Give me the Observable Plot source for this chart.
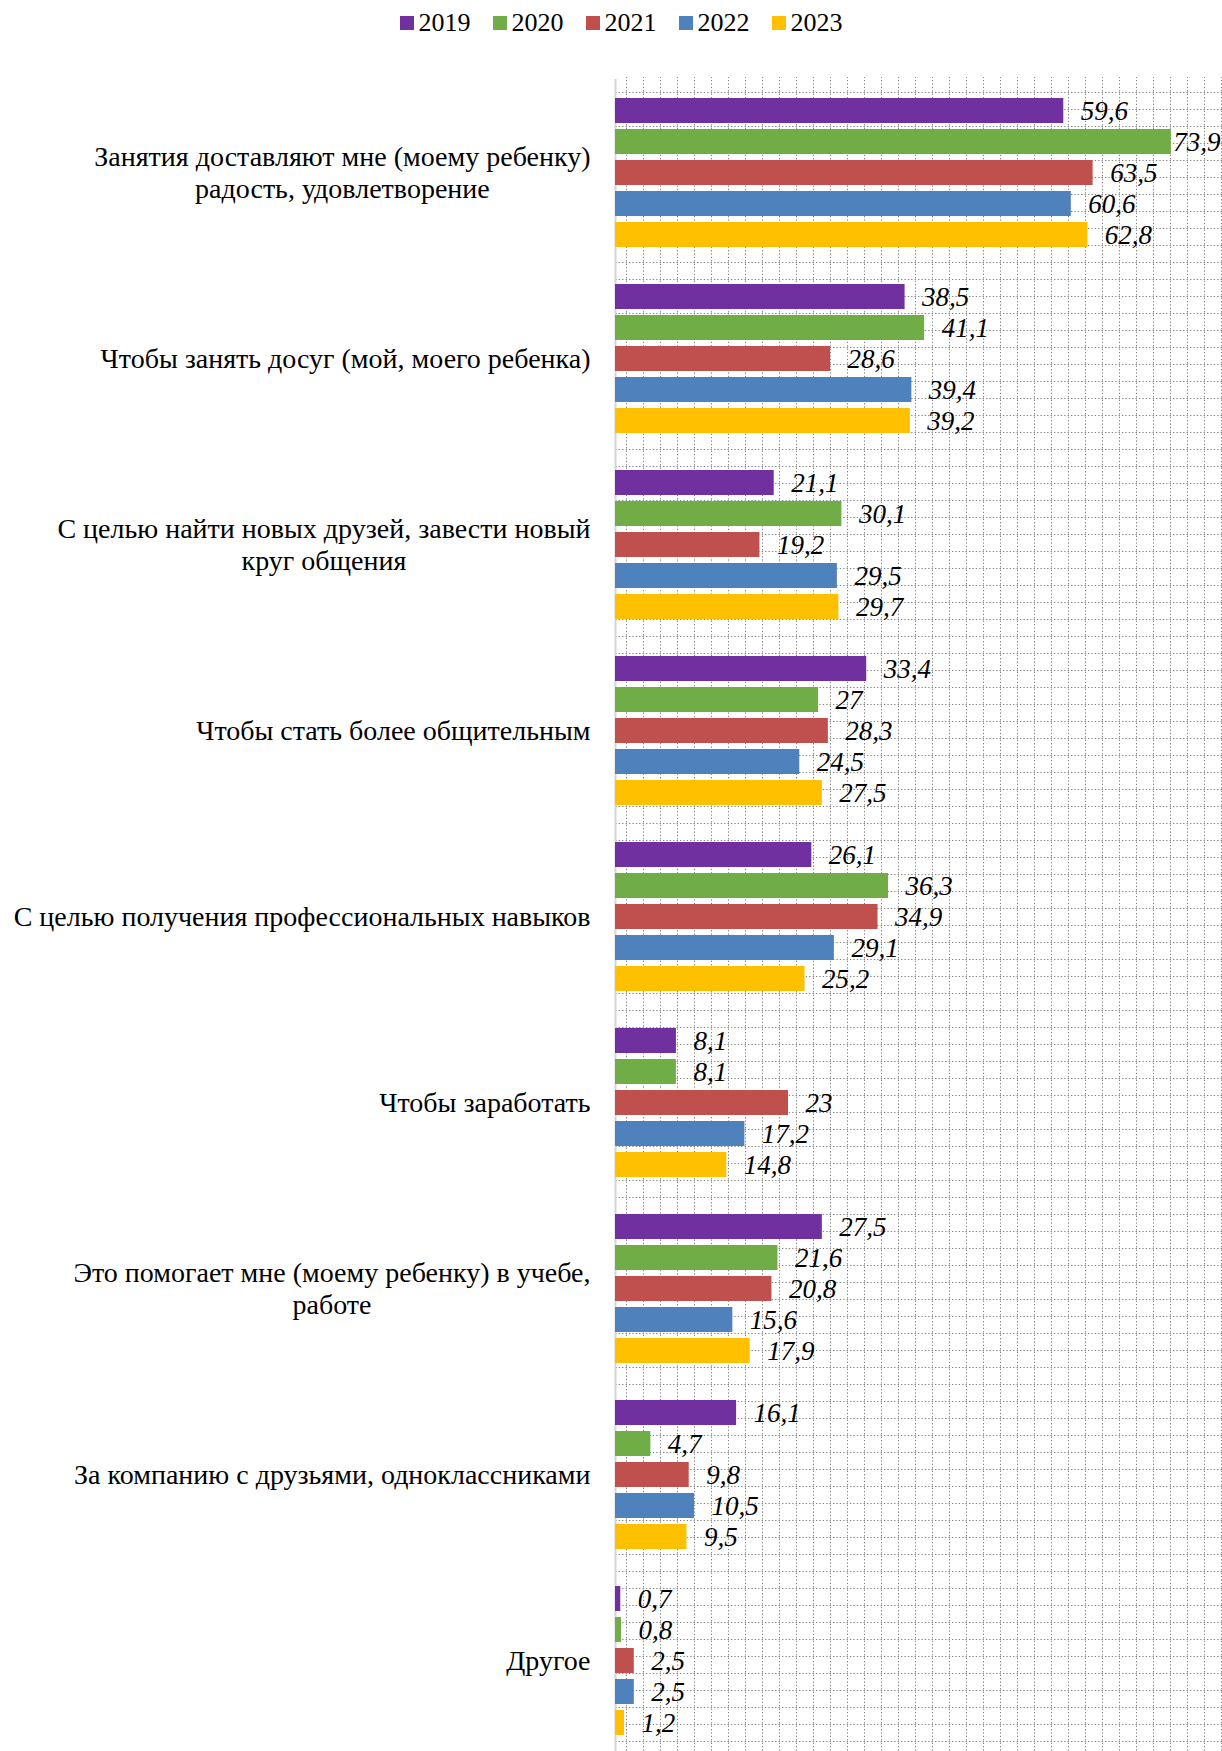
<!DOCTYPE html>
<html>
<head>
<meta charset="utf-8">
<script src="https://cdn.jsdelivr.net/npm/d3@7"></script>
<script src="https://cdn.jsdelivr.net/npm/@observablehq/plot@0.6"></script>
<style>
  html, body { margin: 0; padding: 0; background: #fff; overflow: hidden; }
  #legend { height: 46px; display: flex; justify-content: center; align-items: center;
            padding-left: 20px; box-sizing: border-box; width: 1222px;
            font-family: 'Liberation Serif', 'Times New Roman', serif; font-size: 26px; color: #000; }
  #legend .item { display: flex; align-items: center; margin: 0 11px; }
  #legend .sw { width: 14px; height: 14px; margin-right: 5px; }
</style>
</head>
<body>
<div id="legend"></div>
<div id="chart"></div>
<script>
const categories = [
  "Занятия доставляют мне (моему ребенку)\nрадость, удовлетворение",
  "Чтобы занять досуг (мой, моего ребенка)",
  "С целью найти новых друзей, завести новый\nкруг общения",
  "Чтобы стать более общительным",
  "С целью получения профессиональных навыков",
  "Чтобы заработать",
  "Это помогает мне (моему ребенку) в учебе,\nработе",
  "За компанию с друзьями, одноклассниками",
  "Другое"
];
const years = ["2019", "2020", "2021", "2022", "2023"];
const colors = ["#7030A0", "#70AD47", "#C0504D", "#4F81BD", "#FFC000"];
const v2019 = [59.6, 38.5, 21.1, 33.4, 26.1, 8.1, 27.5, 16.1, 0.7];
const v2020 = [73.9, 41.1, 30.1, 27, 36.3, 8.1, 21.6, 4.7, 0.8];
const v2021 = [63.5, 28.6, 19.2, 28.3, 34.9, 23, 20.8, 9.8, 2.5];
const v2022 = [60.6, 39.4, 29.5, 24.5, 29.1, 17.2, 15.6, 10.5, 2.5];
const v2023 = [62.8, 39.2, 29.7, 27.5, 25.2, 14.8, 17.9, 9.5, 1.2];
const series = [v2019, v2020, v2021, v2022, v2023];

const rows = [];
categories.forEach((c, i) => {
  years.forEach((y, j) => rows.push({category: c, year: y, value: series[j][i]}));
});
const fmt = v => String(v).replace(".", ",");

// legend
const lg = document.getElementById("legend");
years.forEach((y, j) => {
  const it = document.createElement("div");
  it.className = "item";
  it.innerHTML = `<div class="sw" style="background:${colors[j]}"></div><span>${y}</span>`;
  lg.appendChild(it);
});

const W = 1222, H = 1709, ML = 615, MT = 31;
const serif = "'Liberation Serif', 'Times New Roman', serif";

const chart = Plot.plot({
  width: W,
  height: H,
  marginTop: MT,
  marginLeft: ML,
  marginRight: 0,
  marginBottom: 0,
  style: {fontFamily: serif, background: "transparent"},
  x: {domain: [0, 80.7], axis: null},
  y: {domain: years, paddingInner: 0.195, paddingOuter: 0.5975, axis: null},
  fy: {domain: categories, padding: 0, axis: null},
  color: {domain: years, range: colors},
  marks: [
    Plot.ruleX([0], {stroke: "#d4d4d4", strokeWidth: 2}),
    Plot.barX(rows, {x: "value", y: "year", fy: "category", fill: "year"}),
    Plot.text(rows.filter(d => d.value < 70), {x: "value", y: "year", fy: "category", text: d => fmt(d.value),
      textAnchor: "start", dx: 17, fontSize: 27, fontStyle: "italic", fill: "#000"}),
    Plot.text(rows.filter(d => d.value >= 70), {x: "value", y: "year", fy: "category", text: d => fmt(d.value),
      textAnchor: "start", dx: 2, fontSize: 27, fontStyle: "italic", fill: "#000"}),
    Plot.axisFy({anchor: "left", tickSize: 0, tickPadding: 25, fontSize: 28, label: null, lineHeight: 1.15, dy: -1, fill: "#000"})
  ]
});
document.getElementById("chart").appendChild(chart);

// background dotted grid pattern (plot area fill)
const ns = "http://www.w3.org/2000/svg";
const svg = chart.tagName.toLowerCase() === "svg" ? chart : chart.querySelector("svg");
const defs = document.createElementNS(ns, "defs");
const pat = document.createElementNS(ns, "pattern");
pat.setAttribute("id", "dotgrid");
pat.setAttribute("patternUnits", "userSpaceOnUse");
pat.setAttribute("x", 0); pat.setAttribute("y", 0);
pat.setAttribute("width", 17); pat.setAttribute("height", 17);
const lv = document.createElementNS(ns, "line");
lv.setAttribute("x1", 14.5); lv.setAttribute("x2", 14.5); lv.setAttribute("y1", 0); lv.setAttribute("y2", 17);
const lh = document.createElementNS(ns, "line");
lh.setAttribute("x1", 0); lh.setAttribute("x2", 17); lh.setAttribute("y1", 12.5); lh.setAttribute("y2", 12.5);
[lv, lh].forEach(l => { l.setAttribute("stroke", "#808080"); l.setAttribute("stroke-width", 1); l.setAttribute("stroke-dasharray", "1.3 2.1"); pat.appendChild(l); });
defs.appendChild(pat);
svg.insertBefore(defs, svg.firstChild);
const bg = document.createElementNS(ns, "rect");
bg.setAttribute("x", ML); bg.setAttribute("y", MT);
bg.setAttribute("width", W - ML); bg.setAttribute("height", H - MT);
bg.setAttribute("fill", "url(#dotgrid)");
defs.after(bg);

// center multi-line category labels as a block, right-aligned block
svg.querySelectorAll('g[aria-label^="fy-axis"] text').forEach(t => {
  const spans = t.querySelectorAll("tspan");
  if (spans.length > 1) {
    let mw = 0;
    spans.forEach(s => { mw = Math.max(mw, s.getComputedTextLength()); });
    t.setAttribute("text-anchor", "middle");
    spans.forEach(s => s.setAttribute("x", -mw / 2));
  }
});
</script>
</body>
</html>
